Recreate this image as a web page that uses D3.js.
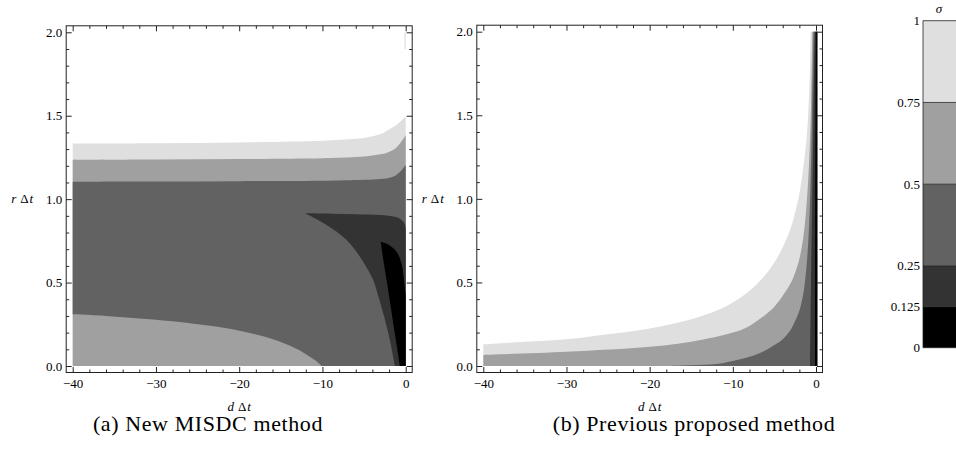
<!DOCTYPE html>
<html>
<head>
<meta charset="utf-8">
<script src="https://cdn.jsdelivr.net/npm/d3@7"></script>
<style>
  body { margin: 0; background: #fff; }
  svg { display: block; }
  text { font-family: "Liberation Serif", "DejaVu Serif", serif; fill: #000; }
</style>
</head>
<body>
<svg id="chart" width="956" height="460"></svg>
<script>
// contour levels of sigma and their fills (band i lies between levels[i] and levels[i+1])
const levels = [0, 0.125, 0.25, 0.5, 0.75, 1];
const levelLabels = ['0', '0.125', '0.25', '0.5', '0.75', '1'];
const bandColors = ['#000000', '#333333', '#626262', '#a0a0a0', '#dfdfdf'];
const xTicks = [-40, -30, -20, -10, 0];
const xMinor = d3.range(-40, 0.1, 2).filter(v => v % 10 !== 0);
const yTicks = [0, 0.5, 1, 1.5, 2];
const yMinor = d3.range(0, 2.01, 0.1).filter(v => Math.abs(v * 2 - Math.round(v * 2)) > 0.01);

// (a) New MISDC method : contour lines as [d*dt, r*dt]
const aSigma1 = [[-40, 1.333], [-30, 1.335], [-20, 1.34], [-10, 1.35], [-6, 1.362], [-4.7, 1.37], [-3, 1.39],
  [-1.9, 1.42], [-1.2, 1.442], [-0.7, 1.462], [-0.3, 1.48], [0, 1.497]];
const aSigma075 = [[-40, 1.235], [-30, 1.237], [-20, 1.24], [-10, 1.245], [-6, 1.252], [-4, 1.262], [-2.5, 1.274],
  [-1.9, 1.285], [-1.2, 1.305], [-0.7, 1.333], [-0.3, 1.36], [0, 1.385]];
const aSigma05 = [[-40, 1.105], [-30, 1.106], [-20, 1.108], [-10, 1.11], [-5, 1.116], [-3, 1.121], [-1.9, 1.128],
  [-1.2, 1.142], [-0.7, 1.162], [-0.3, 1.185], [0, 1.205]];
const aLowLeft = [[-40, 0.31], [-36, 0.3], [-32.7, 0.288], [-28, 0.268], [-24.7, 0.248], [-21, 0.222], [-18.7, 0.198],
  [-16.5, 0.17], [-14.7, 0.138], [-13, 0.1], [-11.9, 0.068], [-10.8, 0.032], [-10.1, 0]];
const aSigma025Top = [[-12.1, 0.915], [-9, 0.913], [-6, 0.91], [-3, 0.905], [-1.5, 0.896], [-0.8, 0.886],
  [-0.3, 0.866], [-0.08, 0.845], [0, 0.815]];
const aSigma025Left = [[-1.3, 0], [-1.6, 0.08], [-1.9, 0.156], [-2.3, 0.24], [-2.7, 0.316], [-3.3, 0.42],
  [-3.9, 0.515], [-4.7, 0.59], [-5.5, 0.655], [-7.1, 0.755], [-9.5, 0.845], [-12.1, 0.915]];
const aSigma0125Right = [[-3.0, 0.745], [-2.4, 0.735], [-1.7, 0.715], [-1.1, 0.685], [-0.7, 0.645], [-0.4, 0.59],
  [-0.25, 0.535], [-0.1, 0.47], [0, 0.42]];
const aSigma0125Left = [[-0.7, 0], [-1.1, 0.13], [-1.5, 0.256], [-1.9, 0.39], [-2.3, 0.515], [-2.7, 0.64], [-3.0, 0.745]];
const aSliver = [[-0.15, 1.9], [0, 1.9], [0, 2], [-0.15, 2]];

// (b) Previous proposed method
const bRight = 0.15;
const bSigma1 = [[-40, 0.13], [-35, 0.145], [-30, 0.16], [-25, 0.19], [-20, 0.225], [-15, 0.28], [-12, 0.33],
  [-10, 0.38], [-8, 0.45], [-6, 0.55], [-5, 0.62], [-4, 0.71], [-3, 0.83], [-2.5, 0.92], [-2, 1.03],
  [-1.5, 1.2], [-1.1, 1.38], [-0.85, 1.6], [-0.72, 1.8], [-0.64, 2.0]];
const bSigma075 = [[-40, 0.066], [-30, 0.085], [-20, 0.115], [-15, 0.145], [-10, 0.2], [-8, 0.24], [-6, 0.31],
  [-5, 0.355], [-4, 0.42], [-3, 0.5], [-2.5, 0.56], [-2, 0.64], [-1.5, 0.78], [-1.1, 0.99], [-0.8, 1.25],
  [-0.6, 1.55], [-0.45, 2.0]];
const bSigma05 = [[-17.5, 0], [-15, 0.004], [-12, 0.012], [-10, 0.03], [-8, 0.055], [-6, 0.095], [-5, 0.125],
  [-4, 0.16], [-3, 0.22], [-2.5, 0.27], [-2, 0.33], [-1.5, 0.44], [-1.1, 0.62], [-0.8, 0.88], [-0.6, 1.2],
  [-0.45, 1.6], [-0.3, 2.0]];
const bSigma025 = [[-0.72, 0], [-0.6, 0.5], [-0.45, 1.0], [-0.3, 1.5], [-0.15, 2.0]];
const bSigma0125 = [[-0.12, 0], [-0.1, 1.0], [-0.02, 2.0]];

// each region: pieces joined in order; pieces with smooth=true are drawn as curves
const S = pts => ({ pts, smooth: true });
const L = pts => ({ pts, smooth: false });

const panels = [
  {
    id: 'a', caption: '(a) New MISDC method', capX: 208, x0: 72.7, x1: 405.7, y0: 366, y1: 32.3,
    regions: [
      { band: 4, pieces: [S(aSigma1), L([[0, 0], [-40, 0]])] },
      { band: 4, pieces: [L(aSliver)] },
      { band: 3, pieces: [S(aSigma075), L([[0, 0], [-40, 0]])] },
      { band: 2, pieces: [S(aSigma05), L([[0, 0]]), S(aLowLeft.slice().reverse())] },
      { band: 1, pieces: [S(aSigma025Top), L([[0, 0]]), S(aSigma025Left)] },
      { band: 0, pieces: [S(aSigma0125Right), L([[0, 0]]), S(aSigma0125Left)] }
    ]
  },
  {
    id: 'b', caption: '(b) Previous proposed method', capX: 694, x0: 483.3, x1: 816, y0: 366, y1: 31.7,
    regions: [
      { band: 4, pieces: [S(bSigma1), L([[bRight, 2], [bRight, 0], [-40, 0]])] },
      { band: 3, pieces: [S(bSigma075), L([[bRight, 2], [bRight, 0], [-40, 0]])] },
      { band: 2, pieces: [S(bSigma05), L([[bRight, 2], [bRight, 0]])] },
      { band: 1, pieces: [S(bSigma025), L([[bRight, 2], [bRight, 0]])] },
      { band: 0, pieces: [S(bSigma0125), L([[bRight, 2], [bRight, 0]])] }
    ]
  }
];

const svg = d3.select('#chart');
const pad = 6.5;
const color = d3.scaleOrdinal().domain(d3.range(5)).range(bandColors);

// "d Δt" style label: italic letters around an upright Δ
function mathLabel(sel, v) {
  sel.append('tspan').attr('font-style', 'italic').text(v);
  sel.append('tspan').attr('dx', 4).text('Δ');
  sel.append('tspan').attr('dx', 1).attr('font-style', 'italic').text('t');
}

panels.forEach(p => {
  const x = d3.scaleLinear().domain([-40, 0]).range([p.x0, p.x1]);
  const y = d3.scaleLinear().domain([0, 2]).range([p.y0, p.y1]);
  const fx0 = p.x0 - pad, fx1 = p.x1 + pad, fy0 = p.y0 + pad, fy1 = p.y1 - pad;
  const g = svg.append('g');

  g.append('clipPath').attr('id', 'clip-' + p.id)
    .append('rect').attr('x', fx0).attr('y', fy1).attr('width', fx1 - fx0).attr('height', fy0 - fy1);

  const smoothLine = d3.line().x(d => x(d[0])).y(d => y(d[1])).curve(d3.curveCatmullRom.alpha(0.5));
  const regionPath = r => r.pieces
    .map((pc, i) => {
      let s = pc.smooth && pc.pts.length > 2
        ? smoothLine(pc.pts)
        : pc.pts.map((d, j) => (j === 0 ? 'M' : 'L') + x(d[0]) + ',' + y(d[1])).join('');
      return i === 0 ? s : s.replace(/^M/, 'L');
    })
    .join('') + 'Z';

  g.append('g').attr('clip-path', `url(#clip-${p.id})`)
    .selectAll('path').data(p.regions).join('path')
    .attr('d', regionPath)
    .attr('fill', d => color(d.band));

  // frame ticks, pointing inward on all four sides
  const sides = [
    { make: () => d3.axisBottom(x), tr: `translate(0,${fy0})`, major: xTicks, minor: xMinor, fmt: d3.format('d'), labels: true, padding: 6 },
    { make: () => d3.axisTop(x), tr: `translate(0,${fy1})`, major: xTicks, minor: xMinor, fmt: null, labels: false, padding: 4 },
    { make: () => d3.axisLeft(y), tr: `translate(${fx0},0)`, major: yTicks, minor: yMinor, fmt: d3.format('.1f'), labels: true, padding: 4 },
    { make: () => d3.axisRight(y), tr: `translate(${fx1},0)`, major: yTicks, minor: yMinor, fmt: null, labels: false, padding: 4 }
  ];
  sides.forEach(s => {
    g.append('g').attr('transform', s.tr)
      .call(s.make().tickValues(s.major).tickSize(-5.5).tickPadding(s.padding).tickFormat(s.labels ? s.fmt : () => ''))
      .call(a => a.select('.domain').remove())
      .call(a => a.selectAll('line').attr('stroke', '#222'))
      .call(a => a.selectAll('text').style('font-size', '13px').style('font-family', '"Liberation Serif", serif'));
    g.append('g').attr('transform', s.tr)
      .call(s.make().tickValues(s.minor).tickSize(-3).tickFormat(() => ''))
      .call(a => a.select('.domain').remove())
      .call(a => a.selectAll('line').attr('stroke', '#222'));
  });

  g.append('rect').attr('x', fx0).attr('y', fy1).attr('width', fx1 - fx0).attr('height', fy0 - fy1)
    .attr('fill', 'none').attr('stroke', '#222').attr('stroke-width', 1);

  // axis labels
  g.append('text').attr('x', (p.x0 + p.x1) / 2).attr('y', 411)
    .attr('text-anchor', 'middle').style('font-size', '13px')
    .call(mathLabel, 'd');
  g.append('text').attr('x', fx0 - 33).attr('y', y(1) + 4)
    .attr('text-anchor', 'end').style('font-size', '13px')
    .call(mathLabel, 'r');

  g.append('text').attr('x', p.capX).attr('y', 431)
    .attr('text-anchor', 'middle').style('font-size', '22px').style('letter-spacing', '0.6px')
    .text(p.caption);
});

// colour bar legend
const cb = d3.scaleLinear().domain([0, 1]).range([347.7, 20.7]);
const cbx = 923;
const bar = svg.append('g');
bar.selectAll('rect').data(d3.range(5)).join('rect')
  .attr('x', cbx).attr('width', 40)
  .attr('y', i => cb(levels[i + 1])).attr('height', i => cb(levels[i]) - cb(levels[i + 1]))
  .attr('fill', i => color(i));
bar.selectAll('line.lev').data(levels).join('line').attr('class', 'lev')
  .attr('x1', cbx).attr('x2', 960).attr('y1', d => cb(d)).attr('y2', d => cb(d))
  .attr('stroke', '#222').attr('stroke-width', 0.8);
bar.append('line').attr('x1', cbx).attr('x2', cbx).attr('y1', cb(1)).attr('y2', cb(0))
  .attr('stroke', '#222').attr('stroke-width', 0.8);
bar.selectAll('text.lab').data(levels).join('text').attr('class', 'lab')
  .attr('x', cbx - 3).attr('y', d => cb(d) + 4.5).attr('text-anchor', 'end').style('font-size', '13px')
  .text((d, i) => levelLabels[i]);
bar.append('text').attr('x', 939).attr('y', 13).attr('text-anchor', 'middle')
  .style('font-size', '13px').attr('font-style', 'italic').text('σ');
</script>
</body>
</html>
